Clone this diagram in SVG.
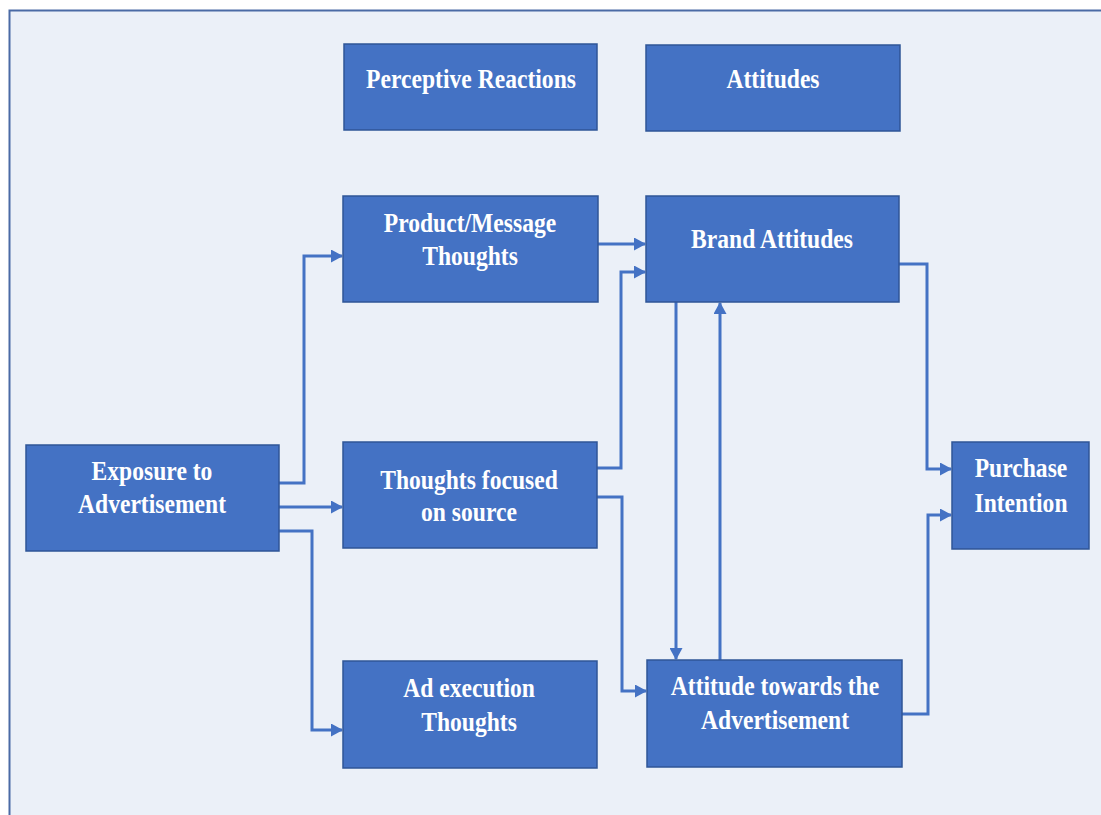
<svg xmlns="http://www.w3.org/2000/svg" width="1101" height="815" viewBox="0 0 1101 815">
<defs>
<style>
.box{fill:#4472C4;stroke:#2F5597;stroke-width:1.5}
.lbl{font-family:"Liberation Serif","Times New Roman",serif;font-weight:bold;font-size:23.6px;fill:#FFFFFF;text-anchor:middle}
.conn{fill:none;stroke:#4472C4;stroke-width:3}
</style>
<marker id="arr" viewBox="0 0 12 13" refX="11" refY="6.5" markerWidth="12" markerHeight="13" markerUnits="userSpaceOnUse" orient="auto">
<path d="M0,0 L12,6.5 L0,13 Z" fill="#4472C4"/>
</marker>
</defs>
<rect x="0" y="0" width="1101" height="815" fill="#FFFFFF"/>
<rect x="9.5" y="10.5" width="1100" height="820" fill="#EBF0F8" stroke="#4A6AA5" stroke-width="2"/>
<g id="connectors">
<path class="conn" d="M279,483 H304 V256 H342" marker-end="url(#arr)"/>
<path class="conn" d="M279,507 H342" marker-end="url(#arr)"/>
<path class="conn" d="M279,531 H312 V730 H342" marker-end="url(#arr)"/>
<path class="conn" d="M598,244 H645" marker-end="url(#arr)"/>
<path class="conn" d="M597,468 H621 V272 H645" marker-end="url(#arr)"/>
<path class="conn" d="M597,497 H622 V691 H646" marker-end="url(#arr)"/>
<path class="conn" d="M676,302 V659" marker-end="url(#arr)"/>
<path class="conn" d="M720,660 V303" marker-end="url(#arr)"/>
<path class="conn" d="M899,264 H927 V469 H951" marker-end="url(#arr)"/>
<path class="conn" d="M902,714 H928 V515 H951" marker-end="url(#arr)"/>
</g>
<g id="perceptive-reactions">
<rect class="box" x="344" y="44" width="253" height="86"/>
<text class="lbl" transform="translate(471,88) scale(1,1.12)">Perceptive Reactions</text>
</g>
<g id="attitudes">
<rect class="box" x="646" y="45" width="254" height="86"/>
<text class="lbl" transform="translate(773,88) scale(1,1.12)">Attitudes</text>
</g>
<g id="product-message">
<rect class="box" x="343" y="196" width="255" height="106"/>
<text class="lbl" transform="translate(470,232) scale(1,1.12)">Product/Message</text>
<text class="lbl" transform="translate(470,265) scale(1,1.12)">Thoughts</text>
</g>
<g id="brand-attitudes">
<rect class="box" x="646" y="196" width="253" height="106"/>
<text class="lbl" transform="translate(772,248) scale(1,1.12)">Brand Attitudes</text>
</g>
<g id="exposure">
<rect class="box" x="26" y="445" width="253" height="106"/>
<text class="lbl" transform="translate(152,480) scale(1,1.12)">Exposure to</text>
<text class="lbl" transform="translate(152,513) scale(1,1.12)">Advertisement</text>
</g>
<g id="thoughts-source">
<rect class="box" x="343" y="442" width="254" height="106"/>
<text class="lbl" transform="translate(469,489) scale(1,1.12)">Thoughts focused</text>
<text class="lbl" transform="translate(469,521) scale(1,1.12)">on source</text>
</g>
<g id="ad-execution">
<rect class="box" x="343" y="661" width="254" height="107"/>
<text class="lbl" transform="translate(469,697) scale(1,1.12)">Ad execution</text>
<text class="lbl" transform="translate(469,731) scale(1,1.12)">Thoughts</text>
</g>
<g id="attitude-ad">
<rect class="box" x="647" y="660" width="255" height="107"/>
<text class="lbl" transform="translate(775,695) scale(1,1.12)">Attitude towards the</text>
<text class="lbl" transform="translate(775,729) scale(1,1.12)">Advertisement</text>
</g>
<g id="purchase-intention">
<rect class="box" x="952" y="442" width="137" height="107"/>
<text class="lbl" transform="translate(1021,477) scale(1,1.12)">Purchase</text>
<text class="lbl" transform="translate(1021,512) scale(1,1.12)">Intention</text>
</g>
</svg>
